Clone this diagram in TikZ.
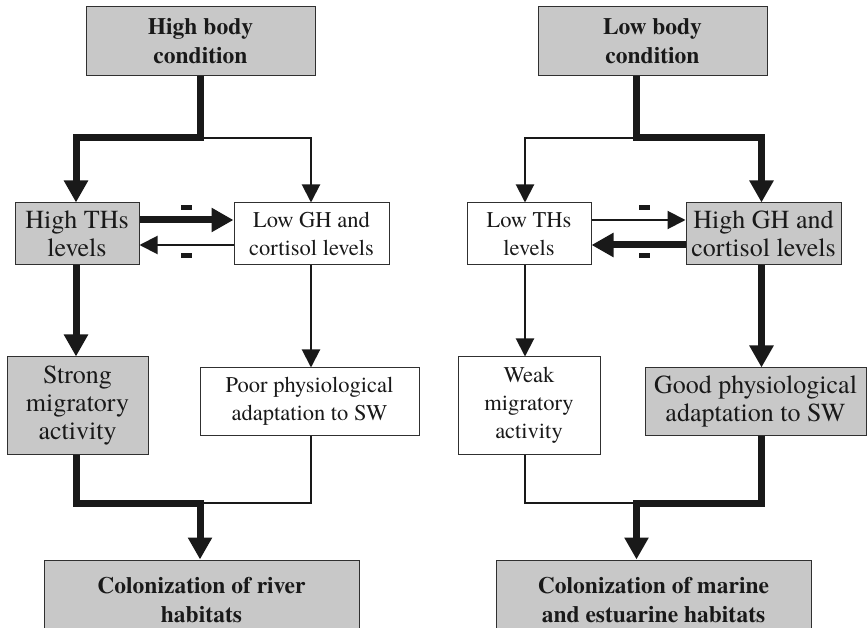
\documentclass[tikz,border=0pt]{standalone}
\usepackage{fontspec}
\setmainfont{texgyretermes}[Extension=.otf, UprightFont=*-regular, BoldFont=*-bold]
\usetikzlibrary{arrows.meta}
\definecolor{boxgray}{RGB}{200,200,200}
\definecolor{ink}{RGB}{25,25,25}
\newcommand\wfnt{\fontsize{22.5pt}{28pt}\selectfont}
\newcommand\gfnt{\fontsize{26pt}{28pt}\selectfont}
\newcommand\bfnt{\fontsize{23.5pt}{29pt}\selectfont\bfseries}
\tikzset{
  box/.style={draw=ink!90, line width=1pt, align=center, inner sep=0pt, text=ink},
  whitebox/.style={box, fill=white, font=\wfnt},
  graybox/.style={box, fill=boxgray, font=\gfnt},
  titlebox/.style={box, fill=boxgray, font=\bfnt},
  thickline/.style={draw=ink, line width=7pt, line join=miter},
  thinline/.style={draw=ink, line width=2pt, line join=miter},
  thickarr/.style={thickline, -{Triangle[width=23pt,length=22pt]}},
  thinarr/.style={thinline, -{Triangle[width=18pt,length=18pt]}},
  minusmark/.style={fill=ink, inner sep=0pt, minimum width=11pt, minimum height=5pt}
}
\begin{document}
\begin{tikzpicture}[x=1pt,y=-1pt]
\clip (0,0) rectangle (868,628);
\fill[white] (0,0) rectangle (868,628);

% ---------- left panel ----------
\node[titlebox, minimum width=229pt, minimum height=69pt] (A1) at (200.5,41.5) {High body\\condition};
\node[graybox, minimum width=124pt, minimum height=62pt] (B1) at (77,234) {High THs\\levels};
\node[whitebox, minimum width=155pt, minimum height=62pt] (C1) at (311.5,234) {Low GH and\\cortisol levels};
\node[graybox, minimum width=141pt, minimum height=97pt] (D1) at (77.5,405.5) {Strong\\migratory\\activity};
\node[whitebox, minimum width=219pt, minimum height=67pt] (E1) at (309.5,401.5) {Poor physiological\\adaptation to SW};
\node[titlebox, minimum width=315pt, minimum height=80pt] (F1) at (201.5,600) {Colonization of river\\habitats};

\coordinate (j1) at (200,138);
\coordinate (k1) at (200,503);
\draw[thinarr] (j1) -| (C1.north -| 311,0);
\draw[thickarr] (A1.south -| j1) -- (j1) -| (B1.north -| 76,0);
\draw[thickarr] (B1.south -| 76,0) -- (D1.north -| 76,0);
\draw[thinarr] (C1.south -| 311,0) -- (E1.north -| 311,0);
\draw[thinline] (E1.south -| 311,0) |- (k1);
\draw[thickarr] (D1.south -| 76,0) |- (k1) -- (k1 |- F1.north);
\draw[thickarr] (B1.east |- 0,220) -- (C1.west |- 0,220);
\draw[thinarr] (C1.west |- 0,245) -- (B1.east |- 0,245);
\node[minusmark] (m1) at (186,208) {};
\node[minusmark] (m2) at (186,256) {};

% ---------- right panel ----------
\node[titlebox, minimum width=229pt, minimum height=69pt] (A2) at (652.5,41.5) {Low body\\condition};
\node[whitebox, minimum width=124pt, minimum height=62pt] (B2) at (529,234) {Low THs\\levels};
\node[graybox, minimum width=155pt, minimum height=62pt] (C2) at (763.5,234) {High GH and\\cortisol levels};
\node[whitebox, minimum width=142pt, minimum height=97pt] (D2) at (529,405.5) {Weak\\migratory\\activity};
\node[graybox, minimum width=221pt, minimum height=67pt] (E2) at (755.5,401.5) {Good physiological\\adaptation to SW};
\node[titlebox, minimum width=315pt, minimum height=80pt] (F2) at (653.5,600) {Colonization of marine\\and estuarine habitats};

\coordinate (j2) at (636.5,138);
\coordinate (k2) at (636.5,503);
\draw[thinarr] (j2) -| (B2.north -| 525,0);
\draw[thickarr] (A2.south -| j2) -- (j2) -| (C2.north -| 761.5,0);
\draw[thinarr] (B2.south -| 525,0) -- (D2.north -| 525,0);
\draw[thickarr] (C2.south -| 761.5,0) -- (E2.north -| 761.5,0);
\draw[thinline] (D2.south -| 525,0) |- (k2);
\draw[thickarr] (E2.south -| 761.5,0) |- (k2) -- (k2 |- F2.north);
\draw[thinarr] (B2.east |- 0,220) -- (C2.west |- 0,220);
\draw[thickarr] (C2.west |- 0,245) -- (B2.east |- 0,245);
\node[minusmark] (m3) at (644,208) {};
\node[minusmark] (m4) at (644,256) {};
\end{tikzpicture}
\end{document}
